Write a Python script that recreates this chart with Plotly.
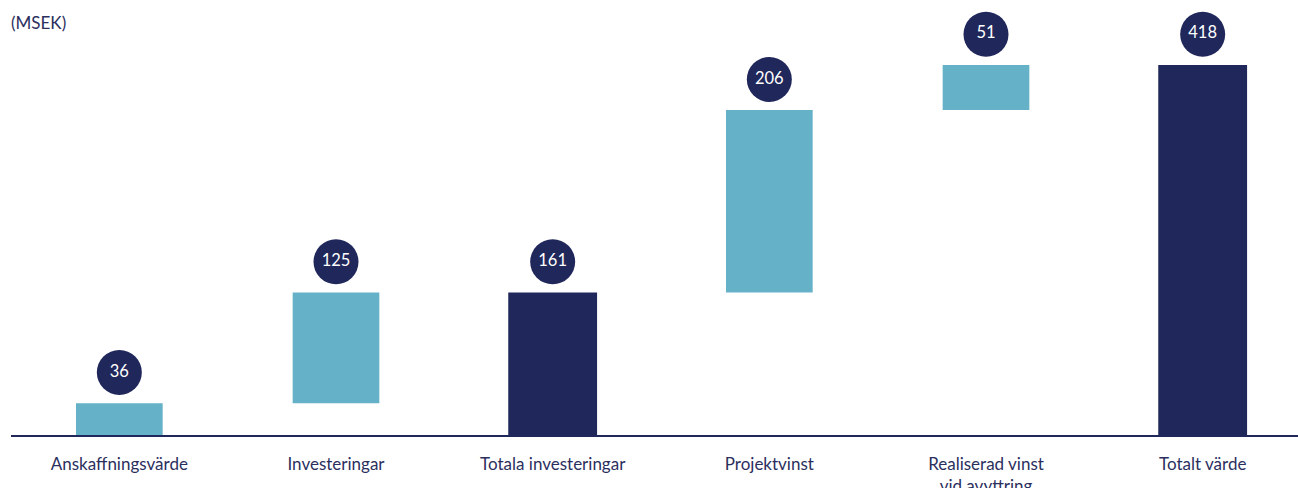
import numpy as np
import plotly.graph_objects as go

categories = ["Anskaffningsvärde", "Investeringar", "Totala investeringar",
              "Projektvinst", "Realiserad vinst<br>vid avyttring", "Totalt värde"]
values = [36, 125, 161, 206, 51, 418]
measures = ["relative", "relative", "total", "relative", "relative", "total"]
unit_label = "(MSEK)"

NAVY = "#20275A"
LIGHT = "#64B1C8"
TEXT = "#2B2F5E"
FONT = "Lato, 'Open Sans', sans-serif"

# cumulative top of every bar, used to place the value badges above them
running = 0.0
tops = []
for v, m in zip(values, measures):
    if m == "total":
        running = v
    else:
        running += v
    tops.append(running)
tops = np.array(tops)

plot_h = 435
y_max = 491.4
px_per_unit = plot_h / y_max
badge_offset = 30.7 / px_per_unit

widths = [0.40 if m == "relative" else 0.41 for m in measures]

fig = go.Figure()
fig.add_trace(go.Waterfall(
    x=categories,
    y=values,
    measure=measures,
    width=widths,
    increasing=dict(marker=dict(color=LIGHT)),
    decreasing=dict(marker=dict(color=LIGHT)),
    totals=dict(marker=dict(color=NAVY)),
    connector=dict(visible=False),
    textposition="none",
    hoverinfo="skip",
))
fig.add_trace(go.Scatter(
    x=categories,
    y=tops + badge_offset,
    mode="markers+text",
    marker=dict(size=45, color=NAVY, line=dict(width=0)),
    text=[str(v) for v in values],
    textposition="middle center",
    textfont=dict(family=FONT, size=16.5, color="white"),
    hoverinfo="skip",
    cliponaxis=False,
))

fig.add_annotation(
    text=unit_label, xref="paper", yref="paper", x=0, y=1,
    xanchor="left", yanchor="middle", showarrow=False,
    font=dict(family=FONT, size=17, color=TEXT),
    xshift=-2, yshift=-22,
)

fig.update_layout(
    width=1298, height=488,
    margin=dict(l=10.7, r=0, t=0, b=53, autoexpand=False),
    paper_bgcolor="white", plot_bgcolor="white",
    showlegend=False,
    xaxis=dict(
        type="category", range=[-0.5, 5.44],
        showline=True, linecolor=NAVY, linewidth=1.5,
        showgrid=False, zeroline=False, ticks="",
        tickfont=dict(family=FONT, size=17, color=TEXT),
        ticklabelstandoff=13, automargin=False,
    ),
    yaxis=dict(range=[0, y_max], visible=False, showgrid=False, zeroline=False),
)

fig.write_html("out.html")
